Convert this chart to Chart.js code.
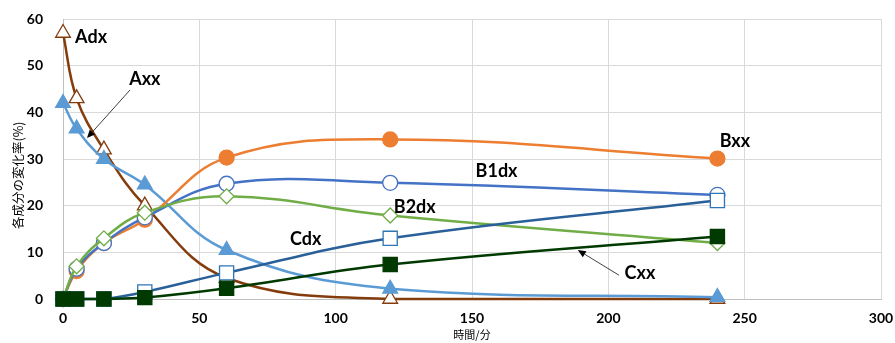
<!DOCTYPE html>
<html>
<head>
<meta charset="utf-8">
<script src="https://cdn.jsdelivr.net/npm/chart.js@4/dist/chart.umd.min.js"></script>
<style>
  html, body { margin: 0; padding: 0; background: #fff; }
  #contenedor { width: 895px; height: 343px; position: relative; }
</style>
</head>
<body>
<div id="contenedor"><canvas id="grafico"></canvas></div>
<script>
// tiempos de muestreo (minutos)
const tiempos = [0, 5, 15, 30, 60, 120, 240];

// valores (%)
const valoresAdx  = [57, 43, 32, 20, 4.5, 0, 0];
const valoresAxx  = [42, 36.5, 30, 24.5, 10.5, 2.2, 0.4];
const valoresBxx  = [0, 6, 12, 17, 30.3, 34.2, 30.1];
const valoresB1dx = [0, 6.5, 12, 17.5, 24.7, 24.9, 22.3];
const valoresB2dx = [0, 7, 13, 18.5, 22, 17.9, 12];
const valoresCdx  = [0, 0, 0, 1.5, 5.6, 13, 21.1];
const valoresCxx  = [0, 0, 0, 0.3, 2.3, 7.4, 13.4];

// ticks de los ejes
const ticksX = [0, 50, 100, 150, 200, 250, 300];
const ticksY = [0, 10, 20, 30, 40, 50, 60];

// etiquetas de texto sobre el grafico (coordenadas de datos)
const etiquetas = [
	{texto: "Adx",  x: 10.3,  y: 56},
	{texto: "Axx",  x: 30,    y: 47.1},
	{texto: "Bxx",  x: 246.4, y: 33.9},
	{texto: "B1dx", x: 159,   y: 27.4},
	{texto: "B2dx", x: 129,   y: 19.7},
	{texto: "Cdx",  x: 89,    y: 12.9},
	{texto: "Cxx",  x: 211.6, y: 5.6}
];

// flechas: desde (x1,y1) hasta la punta (x2,y2)
const flechas = [
	{x1: 24.6,  y1: 44.8, x2: 8.8,   y2: 34.5},
	{x1: 203.9, y1: 5.1,  x2: 188.8, y2: 10.5}
];

const tituloY = "各成分の変化率(%)";

function puntos(valores){
	return tiempos.map((t, i) => ({x: t, y: valores[i]}));
}

function serie(nombre, valores, colorLinea, colorBorde, relleno, estilo, radio){
	return {
		label: nombre,
		data: puntos(valores),
		borderColor: colorLinea,
		backgroundColor: colorLinea,
		borderWidth: 2.5,
		pointStyle: estilo,
		pointRadius: radio,
		pointHoverRadius: radio,
		pointBorderColor: colorBorde,
		pointBackgroundColor: relleno,
		pointBorderWidth: 1.3,
		tension: 0.4,
		clip: false
	};
}

const pluginAnotaciones = {
	id: "anotaciones",
	afterDatasetsDraw: function(chart){
		const ctx = chart.ctx;
		const sx = chart.scales.x;
		const sy = chart.scales.y;

		ctx.save();
		ctx.fillStyle = "#000";
		ctx.font = "bold 18px Lato";
		ctx.textAlign = "center";
		ctx.textBaseline = "middle";
		etiquetas.forEach(e => {
			ctx.fillText(e.texto, sx.getPixelForValue(e.x), sy.getPixelForValue(e.y));
		});

		flechas.forEach(f => {
			let x1 = sx.getPixelForValue(f.x1), y1 = sy.getPixelForValue(f.y1);
			let x2 = sx.getPixelForValue(f.x2), y2 = sy.getPixelForValue(f.y2);
			let ang = Math.atan2(y2 - y1, x2 - x1);
			let largo = 8, ancho = 3.5;

			ctx.strokeStyle = "#000";
			ctx.lineWidth = 0.75;
			ctx.beginPath();
			ctx.moveTo(x1, y1);
			ctx.lineTo(x2 - Math.cos(ang) * largo, y2 - Math.sin(ang) * largo);
			ctx.stroke();

			ctx.beginPath();
			ctx.moveTo(x2, y2);
			ctx.lineTo(x2 - Math.cos(ang) * largo - Math.sin(ang) * ancho,
			           y2 - Math.sin(ang) * largo + Math.cos(ang) * ancho);
			ctx.lineTo(x2 - Math.cos(ang) * largo + Math.sin(ang) * ancho,
			           y2 - Math.sin(ang) * largo - Math.cos(ang) * ancho);
			ctx.closePath();
			ctx.fill();
		});

		// titulo del eje Y, un poco por debajo del centro como en el original
		ctx.translate(18, sy.getPixelForValue(26.5));
		ctx.rotate(-Math.PI / 2);
		ctx.font = "12.5px 'Noto Sans CJK JP'";
		ctx.fillText(tituloY, 0, 0);
		ctx.restore();
	}
};

const fuenteTicks = {family: "Lato", size: 14, weight: "bold"};
const colorGrid = "#D9D9D9";

new Chart("grafico", {
	type: "line",
	data: {
		datasets: [
			serie("Cxx",  valoresCxx,  "#013A01", "#013A01", "#013A01", "rect", 10),
			serie("Cdx",  valoresCdx,  "#2A6099", "#2E75B6", "#FFFFFF", "rect", 10),
			serie("B2dx", valoresB2dx, "#70AD47", "#70AD47", "#FFFFFF", "rectRot", 7.5),
			serie("B1dx", valoresB1dx, "#4472C4", "#4472C4", "#FFFFFF", "circle", 7.5),
			serie("Bxx",  valoresBxx,  "#ED7D31", "#ED7D31", "#ED7D31", "circle", 7.5),
			serie("Axx",  valoresAxx,  "#5B9BD5", "#5B9BD5", "#5B9BD5", "triangle", 8.5),
			serie("Adx",  valoresAdx,  "#843C0C", "#843C0C", "#FFFFFF", "triangle", 8.5)
		]
	},
	options: {
		responsive: true,
		maintainAspectRatio: false,
		animation: false,
		events: [],
		layout: {padding: {top: 19, right: 14, left: 0, bottom: 0}},
		plugins: {
			legend: {display: false},
			tooltip: {enabled: false}
		},
		scales: {
			x: {
				type: "linear",
				min: 0,
				max: 300,
				afterBuildTicks: s => { s.ticks = ticksX.map(v => ({value: v})); },
				afterFit: s => { s.height = 44; s.paddingLeft = 0; s.paddingRight = 0; },
				grid: {color: colorGrid, drawTicks: false},
				border: {color: "#BFBFBF"},
				ticks: {font: fuenteTicks, color: "#000", padding: 11, maxRotation: 0},
				title: {
					display: true,
					text: "時間/分",
					color: "#000",
					font: {family: "Noto Sans CJK JP", size: 11},
					padding: {top: 0, bottom: 2}
				}
			},
			y: {
				min: 0,
				max: 60,
				afterBuildTicks: s => { s.ticks = ticksY.map(v => ({value: v})); },
				afterFit: s => { s.width = 63; s.paddingTop = 0; s.paddingBottom = 0; },
				grid: {color: colorGrid, drawTicks: false},
				border: {color: "#BFBFBF"},
				ticks: {font: fuenteTicks, color: "#000", padding: 20}
			}
		}
	},
	plugins: [pluginAnotaciones]
});
</script>
</body>
</html>
